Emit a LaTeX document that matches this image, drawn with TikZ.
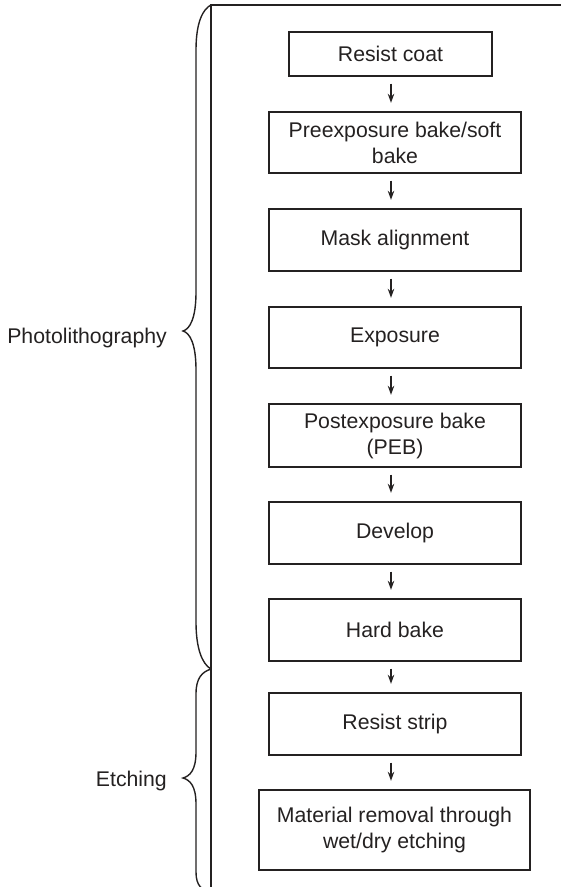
\documentclass[tikz,border=0pt]{standalone}
\usepackage{fontspec}
\setmainfont{Liberation Sans}
\usetikzlibrary{arrows.meta}
\definecolor{ink}{rgb}{0.14,0.13,0.13}
\begin{document}
\begin{tikzpicture}[x=1pt,y=-1pt,
  font=\fontsize{21.25}{26}\selectfont,
  every node/.style={text=ink},
  stepbox/.style={draw=ink, line width=1.4pt, align=center, inner sep=0pt,
                  minimum width=252pt, minimum height=62pt},
  flow/.style={draw=ink, line width=1.2pt, -{Stealth[length=9pt,width=6.5pt]},
               shorten <=7pt, shorten >=8.5pt},
  rule/.style={draw=ink, line width=1.4pt},
  brace/.style={draw=ink, line width=1.4pt},
  label/.style={anchor=base east, inner sep=0pt}]
\useasboundingbox (0,0) rectangle (561,887);

% frame: top rule and vertical divider
\coordinate (tr) at (561,5);
\coordinate (tl) at (211,5);
\coordinate (bl) at (211,887);
\draw[rule] (tr) -- (tl) -- (bl);

% process steps
\node[stepbox, minimum width=203pt, minimum height=44pt] (rc) at (390.5,54) {Resist coat};
\node[stepbox, minimum height=61pt] (pre) at (395,142.5) {Preexposure bake/soft\\bake};
\node[stepbox] (mask) at (395,240) {Mask alignment};
\node[stepbox, minimum height=61pt] (exp) at (395,337.5) {Exposure};
\node[stepbox, minimum height=63pt] (peb) at (395,435.5) {Postexposure bake\\(PEB)};
\node[stepbox] (dev) at (395,533) {Develop};
\node[stepbox] (hard) at (395,630) {Hard bake};
\node[stepbox] (strip) at (395,724) {Resist strip};
\node[stepbox, minimum width=271pt, minimum height=80pt] (mat) at (394.5,830)
  {Material removal through\\wet/dry etching};

% arrows run down a common spine
\coordinate (spine) at (391,0);
\draw[flow] (rc.south -| spine) -- (pre.north -| spine);
\draw[flow] (pre.south -| spine) -- (mask.north -| spine);
\draw[flow] (mask.south -| spine) -- (exp.north -| spine);
\draw[flow] (exp.south -| spine) -- (peb.north -| spine);
\draw[flow] (peb.south -| spine) -- (dev.north -| spine);
\draw[flow] (dev.south -| spine) -- (hard.north -| spine);
\draw[flow] (hard.south -| spine) -- (strip.north -| spine);
\draw[flow] (strip.south -| spine) -- (mat.north -| spine);

% grouping braces
\draw[brace] (211,5) .. controls (203,9) and (196,22) .. (196,50)
  -- (196,292) .. controls (196,318) and (190,329) .. (183,331)
  .. controls (190,333) and (196,344) .. (196,370)
  -- (196,622) .. controls (196,648) and (202,664) .. (211,669);
\draw[brace] (211,669) .. controls (202,672) and (196,678) .. (196,694)
  -- (196,752) .. controls (196,770) and (190,776) .. (183,778)
  .. controls (190,780) and (196,786) .. (196,804)
  -- (196,872) .. controls (196,886) and (202,890) .. (211,893);

\node[label] (photo) at (167,343) {Photolithography};
\node[label] (etch) at (167,786) {Etching};
\end{tikzpicture}
\end{document}
